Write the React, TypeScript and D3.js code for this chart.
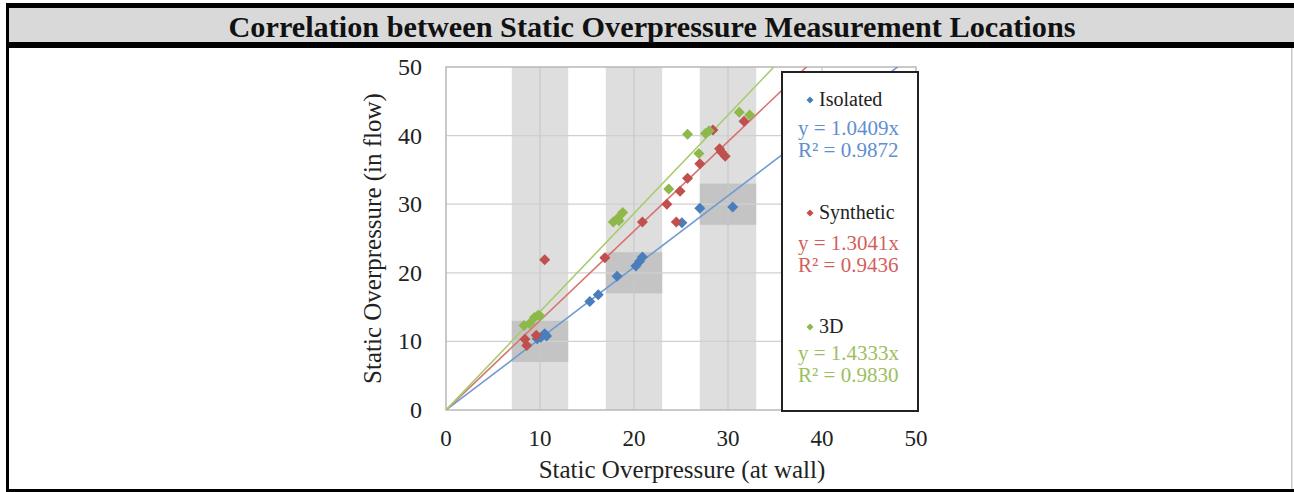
import React from "react";
import * as d3 from "d3";

// Measured overpressure pairs: [at wall, in flow]
const isolatedPoints: [number, number][] = [
  [9.7, 10.4], [10.1, 10.6], [10.5, 11.1], [10.7, 10.8],
  [15.3, 15.8], [16.2, 16.8], [18.2, 19.5],
  [20.2, 21.0], [20.6, 21.7], [20.9, 22.3],
  [25.1, 27.3], [27.0, 29.4], [30.5, 29.6],
];
const syntheticPoints: [number, number][] = [
  [8.4, 10.3], [8.6, 9.4], [9.6, 10.9], [10.5, 21.9],
  [16.9, 22.2], [20.9, 27.4], [23.5, 30.0], [24.5, 27.4],
  [24.9, 31.9], [25.7, 33.8], [27.0, 35.9], [28.4, 40.8],
  [29.1, 38.1], [29.3, 37.6], [29.7, 37.0], [31.7, 42.1],
];
const threeDPoints: [number, number][] = [
  [8.3, 12.3], [8.9, 12.6], [9.4, 13.5], [9.8, 13.8], [10.0, 13.7],
  [17.8, 27.4], [18.3, 28.0], [18.8, 28.8], [18.4, 27.6],
  [23.7, 32.2], [25.7, 40.2], [26.9, 37.4], [27.6, 40.3], [28.0, 40.7],
  [31.2, 43.4], [32.3, 43.0],
];

const seriesNames = ["Isolated", "Synthetic", "3D"];
const slopes = [1.0409, 1.3041, 1.4333];
const rSquared = [0.9872, 0.9436, 0.983];

// Shaded measurement windows (x ranges) and their highlighted squares
const bands: [number, number][] = [[7, 13], [17, 23], [27, 33]];

const xTicks = [0, 10, 20, 30, 40, 50];
const yTicks = [0, 10, 20, 30, 40, 50];

const markerColors = ["#4a7ebb", "#c0504d", "#8fb84a"];
const lineColors = ["#6f9ad3", "#d9726f", "#a8cc6c"];
const textColors = ["#5e8fcf", "#d35f5c", "#9cc05e"];

const SERIF = "'Liberation Serif', 'Times New Roman', serif";

const diamond = (r: number) => `M0,${-r}L${r},0L0,${r}L${-r},0Z`;

export default function App() {
  const left = 446, right = 916, top = 67, bottom = 410;
  const x = d3.scaleLinear().domain([0, 50]).range([left, right]);
  const y = d3.scaleLinear().domain([0, 50]).range([bottom, top]);
  const allSeries = [isolatedPoints, syntheticPoints, threeDPoints];

  const line = d3.line<[number, number]>().x((d) => x(d[0])).y((d) => y(d[1]));

  const legendRows = [
    { nameY: 106, eqY: 135, rY: 157 },
    { nameY: 219, eqY: 250, rY: 272 },
    { nameY: 333, eqY: 360, rY: 382 },
  ];

  return (
    <svg
      width={1294}
      height={492}
      style={{ position: "absolute", left: 0, top: 0, background: "#fff" }}
    >
      {/* Header frame */}
      <rect x={6} y={3} width={1288} height={45} fill="#000" />
      <rect x={9} y={8} width={1285} height={34} fill="#d9d9d9" />
      <rect x={6} y={3} width={3} height={489} fill="#000" />
      <rect x={6} y={489} width={1288} height={3} fill="#000" />
      <rect x={1291} y={48} width={1.5} height={441} fill="#c8c8c8" />
      <text
        x={652}
        y={37}
        textAnchor="middle"
        fontFamily={SERIF}
        fontWeight="bold"
        fontSize={29}
        textLength={847}
        lengthAdjust="spacingAndGlyphs"
        fill="#111"
      >
        Correlation between Static Overpressure Measurement Locations
      </text>

      <defs>
        <clipPath id="plotClip">
          <rect x={left} y={top} width={right - left} height={bottom - top} />
        </clipPath>
      </defs>

      {/* Measurement windows */}
      {bands.map(([a, b], i) => (
        <rect key={`band${i}`} x={x(a)} y={top} width={x(b) - x(a)} height={bottom - top} fill="#dedede" />
      ))}
      {bands.map(([a, b], i) => (
        <rect key={`sq${i}`} x={x(a)} y={y(b)} width={x(b) - x(a)} height={y(a) - y(b)} fill="#c4c4c4" />
      ))}

      {/* Gridlines */}
      {yTicks.slice(1, -1).map((t) => (
        <line key={`gy${t}`} x1={left} x2={right} y1={y(t)} y2={y(t)} stroke="#d0d0d0" strokeWidth={1.2} />
      ))}
      {xTicks.slice(1, -1).map((t) => (
        <line key={`gx${t}`} x1={x(t)} x2={x(t)} y1={top} y2={bottom} stroke="#c8c8c8" strokeWidth={1.2} />
      ))}
      <rect x={left} y={top} width={right - left} height={bottom - top} fill="none" stroke="#b8b8b8" strokeWidth={1.5} />

      {/* Linear fits through origin */}
      <g clipPath="url(#plotClip)">
        {slopes.map((k, i) => (
          <path
            key={`fit${i}`}
            d={line([[0, 0], [50, 50 * k]]) || ""}
            stroke={lineColors[i]}
            strokeWidth={1.6}
            fill="none"
          />
        ))}
      </g>

      {/* Data markers */}
      {allSeries.map((pts, i) => (
        <g key={`s${i}`} fill={markerColors[i]}>
          {pts.map((p, j) => (
            <path key={j} d={diamond(5.5)} transform={`translate(${x(p[0])},${y(p[1])})`} />
          ))}
        </g>
      ))}

      {/* Axis tick labels */}
      {yTicks.map((t) => (
        <text key={`yl${t}`} x={422} y={y(t) + 8} textAnchor="end" fontFamily={SERIF} fontSize={24} fill="#222">
          {t}
        </text>
      ))}
      {xTicks.map((t) => (
        <text key={`xl${t}`} x={x(t)} y={446} textAnchor="middle" fontFamily={SERIF} fontSize={23} fill="#222">
          {t}
        </text>
      ))}
      <text x={682} y={478} textAnchor="middle" fontFamily={SERIF} fontSize={25} fill="#222">
        Static Overpressure (at wall)
      </text>
      <text
        transform={`translate(381,${(top + bottom) / 2}) rotate(-90)`}
        textAnchor="middle"
        fontFamily={SERIF}
        fontSize={25}
        fill="#222"
      >
        Static Overpressure (in flow)
      </text>

      {/* Legend */}
      <rect x={782} y={72} width={136} height={339} fill="#fff" stroke="#222" strokeWidth={2} />
      {seriesNames.map((name, i) => {
        const r = legendRows[i];
        return (
          <g key={`lg${i}`} fontFamily={SERIF}>
            <path d={diamond(3.5)} transform={`translate(810,${r.nameY - 6})`} fill={markerColors[i]} />
            <text x={819} y={r.nameY} fontSize={20} fill="#222">
              {name}
            </text>
            <text x={798} y={r.eqY} fontSize={21} fill={textColors[i]}>
              {`y = ${slopes[i].toFixed(4)}x`}
            </text>
            <text x={798} y={r.rY} fontSize={21} fill={textColors[i]}>
              {`R² = ${rSquared[i].toFixed(4)}`}
            </text>
          </g>
        );
      })}
    </svg>
  );
}
